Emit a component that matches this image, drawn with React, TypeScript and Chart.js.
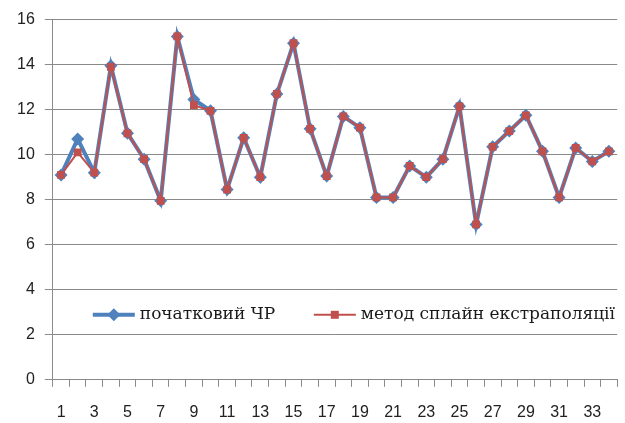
import React, { useEffect, useRef } from 'react';
import { Chart, registerables } from 'chart.js';

Chart.register(...registerables);

const CATEGORIES = ['1','2','3','4','5','6','7','8','9','10','11','12','13','14','15','16','17','18','19','20','21','22','23','24','25','26','27','28','29','30','31','32','33','34'];

const INITIAL_SERIES = [9.1, 10.7, 9.2, 13.95, 10.95, 9.8, 7.95, 15.25, 12.45, 11.95, 8.45, 10.75, 9.0, 12.7, 14.95, 11.15, 9.05, 11.7, 11.2, 8.1, 8.1, 9.5, 9.0, 9.8, 12.15, 6.9, 10.35, 11.05, 11.75, 10.15, 8.1, 10.3, 9.7, 10.15];

const SPLINE_SERIES = [9.1, 10.1, 9.2, 13.9, 10.95, 9.8, 7.95, 15.25, 12.2, 11.95, 8.45, 10.75, 9.0, 12.7, 14.95, 11.15, 9.05, 11.7, 11.2, 8.1, 8.1, 9.5, 9.0, 9.8, 12.15, 6.9, 10.35, 11.05, 11.75, 10.15, 8.1, 10.3, 9.7, 10.15];

const SERIES_NAMES = ['початковий ЧР', 'метод сплайн екстраполяції'];

const BLUE = '#4F81BD';
const RED = '#C0504D';
const GRID = '#8a8a8a';
const TICK_FONT = { family: 'Liberation Sans', size: 16 };
const LEGEND_FONT = '17px "DejaVu Serif"';

const legendPlugin = {
  id: 'insideLegend',
  afterDraw(chart: any) {
    const ctx = chart.ctx as CanvasRenderingContext2D;
    const area = chart.chartArea;
    const y = area.bottom - 65;
    const items = [
      { x: area.left + 40, color: BLUE, lw: 4, shape: 'diamond', r: 6.5, text: SERIES_NAMES[0] },
      { x: area.left + 261, color: RED, lw: 2, shape: 'square', r: 4, text: SERIES_NAMES[1] },
    ];
    ctx.save();
    for (const it of items) {
      ctx.strokeStyle = it.color;
      ctx.lineWidth = it.lw;
      ctx.beginPath();
      ctx.moveTo(it.x, y);
      ctx.lineTo(it.x + 42, y);
      ctx.stroke();
      const cx = it.x + 21;
      ctx.fillStyle = it.color;
      ctx.beginPath();
      if (it.shape === 'diamond') {
        ctx.moveTo(cx - it.r, y);
        ctx.lineTo(cx, y - it.r);
        ctx.lineTo(cx + it.r, y);
        ctx.lineTo(cx, y + it.r);
        ctx.closePath();
      } else {
        ctx.rect(cx - it.r, y - it.r, it.r * 2, it.r * 2);
      }
      ctx.fill();
      ctx.fillStyle = '#1a1a1a';
      ctx.font = LEGEND_FONT;
      ctx.textBaseline = 'middle';
      ctx.textAlign = 'left';
      ctx.fillText(it.text, it.x + 47, y);
    }
    ctx.restore();
  },
};

export default function App() {
  const ref = useRef<HTMLCanvasElement | null>(null);

  useEffect(() => {
    if (!ref.current) return;
    const chart = new Chart(ref.current, {
      type: 'line',
      data: {
        labels: CATEGORIES,
        datasets: [
          {
            label: SERIES_NAMES[0],
            data: INITIAL_SERIES,
            borderColor: BLUE,
            backgroundColor: BLUE,
            borderWidth: 4,
            pointStyle: 'rectRot',
            pointRadius: 6.5,
            pointBorderWidth: 0,
            pointBackgroundColor: BLUE,
            tension: 0,
            order: 1,
          },
          {
            label: SERIES_NAMES[1],
            data: SPLINE_SERIES,
            borderColor: RED,
            backgroundColor: RED,
            borderWidth: 2,
            pointStyle: 'rect',
            pointRadius: 5.5,
            pointBorderWidth: 0,
            pointBackgroundColor: RED,
            tension: 0,
            order: 0,
          },
        ],
      },
      options: {
        responsive: false,
        animation: false,
        devicePixelRatio: 1,
        layout: { padding: { left: 7, right: 2, top: 16, bottom: -15 } },
        plugins: {
          legend: { display: false },
          tooltip: { enabled: false },
        },
        scales: {
          x: {
            type: 'category',
            offset: true,
            grid: {
              offset: true,
              drawOnChartArea: false,
              drawTicks: true,
              tickLength: 7,
              color: GRID,
            },
            border: { color: GRID, width: 1 },
            ticks: {
              autoSkip: false,
              maxRotation: 0,
              minRotation: 0,
              padding: 16,
              color: '#222',
              font: TICK_FONT,
              callback: (_v: any, i: number) => (i % 2 === 0 ? CATEGORIES[i] : ''),
            },
          },
          y: {
            min: 0,
            max: 16,
            grid: {
              color: GRID,
              tickLength: 8,
              drawTicks: true,
            },
            border: { color: GRID, width: 1 },
            ticks: {
              stepSize: 2,
              padding: 10,
              color: '#222',
              font: TICK_FONT,
            },
          },
        },
      },
      plugins: [legendPlugin],
    });
    return () => chart.destroy();
  }, []);

  return (
    <div style={{ position: 'fixed', left: 0, top: 0, width: 625, height: 423, background: '#fff' }}>
      <canvas ref={ref} width={625} height={423} style={{ display: 'block' }} />
    </div>
  );
}
